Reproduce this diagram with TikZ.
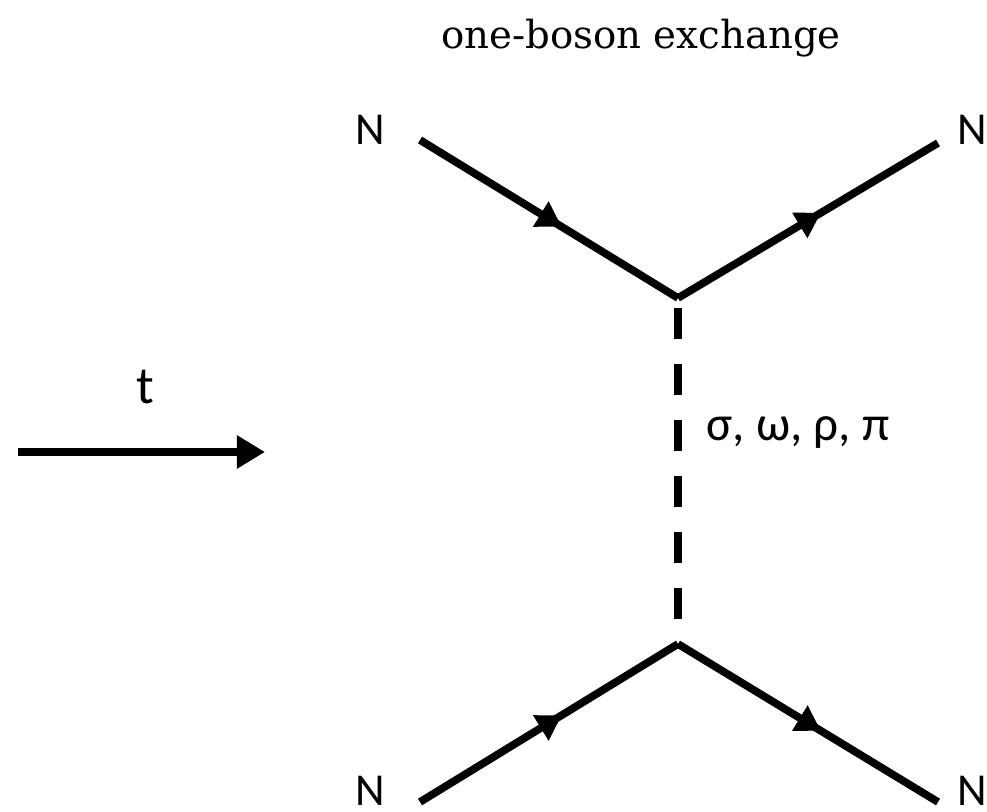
\documentclass[tikz,border=0pt]{standalone}
\usepackage{fontspec}
\setmainfont{Carlito}
\newfontfamily\titlefont{DejaVu Serif}
\usetikzlibrary{arrows.meta, decorations.markings}

\begin{document}
\begin{tikzpicture}[x=0.01cm, y=-0.01cm,
    fermion/.style={line width=2.2pt, postaction={decorate},
        decoration={markings, mark=at position 0.55 with {\arrow{Triangle[length=7pt, width=8pt]}}}},
    boson/.style={line width=2.2pt, dash pattern=on 8.8pt off 7.1pt},
    lbl/.style={inner sep=0pt, font=\fontsize{13}{15}\selectfont}]

\useasboundingbox (0,0) rectangle (987,812);

% Title
\node[font=\titlefont\fontsize{11}{13}\selectfont] (title) at (641,38) {one-boson exchange};

% Vertices
\coordinate (vtop) at (678,298);
\coordinate (vbot) at (678,644);

% Outer ends of the nucleon lines
\coordinate (ain) at (420,140);
\coordinate (aout) at (938,143);
\coordinate (bin) at (420,802);
\coordinate (bout) at (938,802);

% Nucleon labels
\node[lbl] (n1) at (370,130) {N};
\node[lbl] (n2) at (972,130) {N};
\node[lbl] (n3) at (370,791) {N};
\node[lbl] (n4) at (972,791) {N};

% Nucleon lines
\draw[fermion] (ain) -- (vtop);
\draw[fermion] (vtop) -- (aout);
\draw[fermion] (bin) -- (vbot);
\draw[fermion] (vbot) -- (bout);

% Exchanged meson
\coordinate (mtop) at (678,308);
\coordinate (mbot) at (678,620);
\draw[boson] (mtop) -- (mbot);
\node[lbl, font=\fontsize{14}{16}\selectfont] (meson) at (798,433) {σ, ω, ρ, π};

% Time direction
\node[lbl, font=\fontsize{15}{17}\selectfont] (t) at (145,387) {t};
\coordinate (t0) at (18,452);
\coordinate (t1) at (265,452);
\draw[line width=2.2pt, -{Triangle[length=8pt, width=9pt]}] (t0) -- (t1);

\end{tikzpicture}
\end{document}
